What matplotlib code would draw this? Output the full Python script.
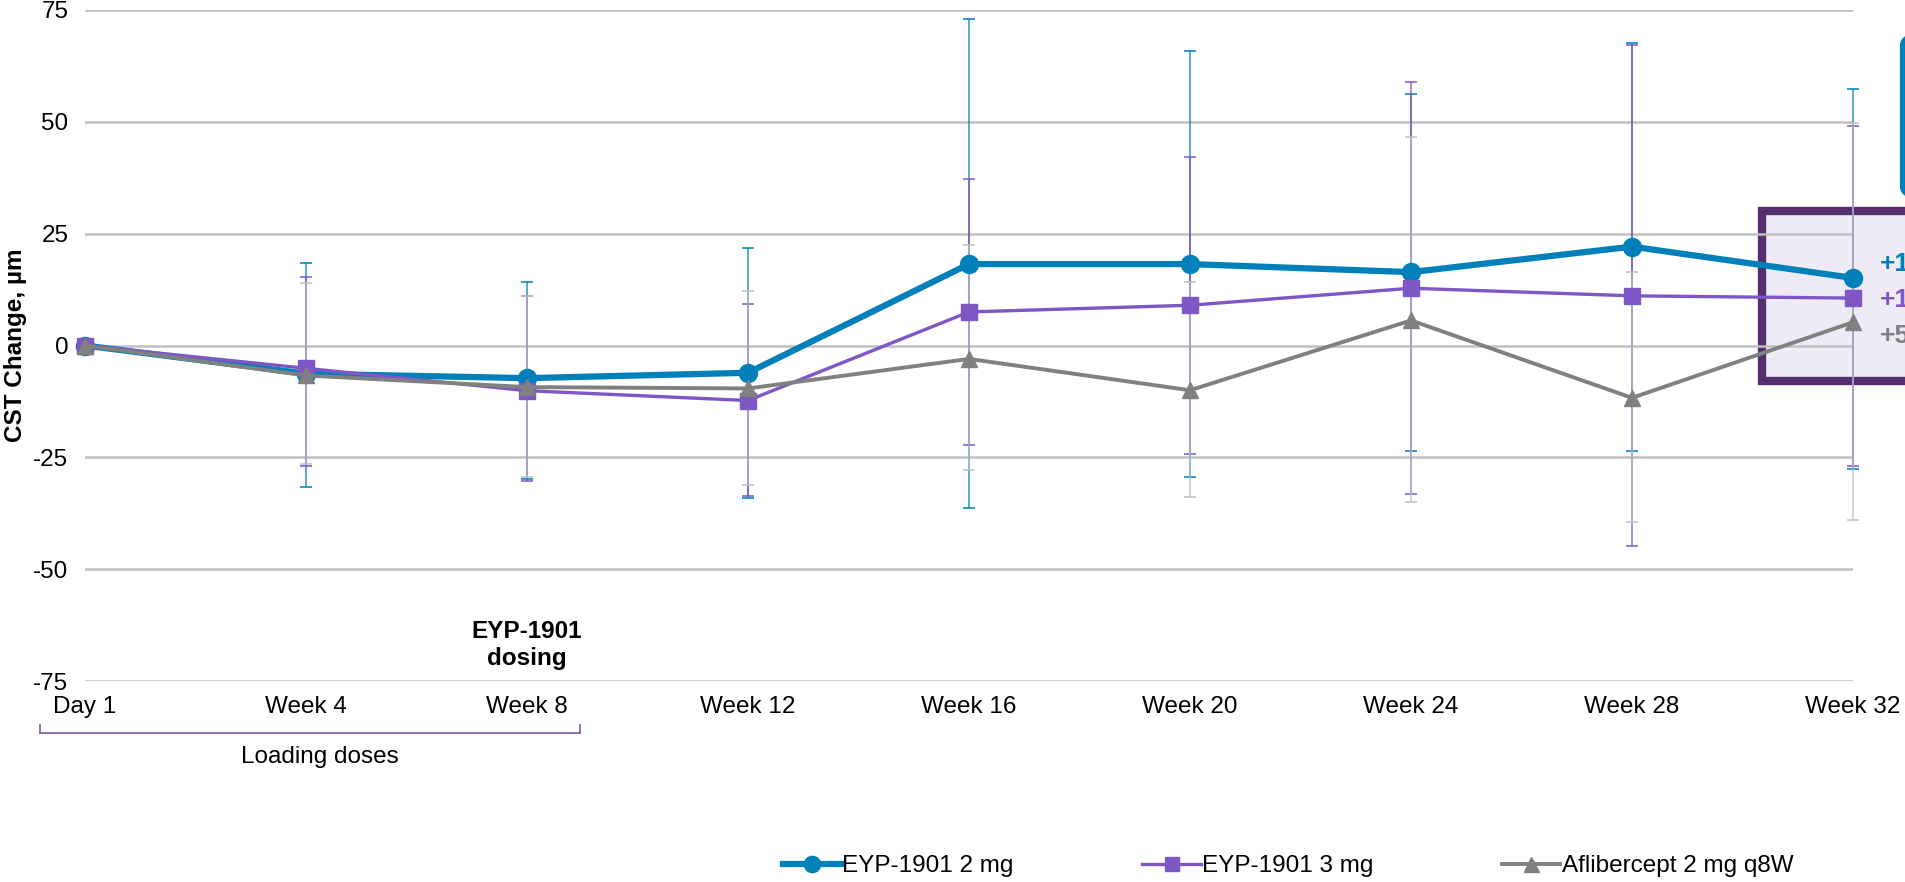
import matplotlib.pyplot as plt
from matplotlib.patches import Rectangle, FancyBboxPatch

plt.rcParams['font.family'] = ['Liberation Sans', 'DejaVu Sans']
plt.rcParams['axes.unicode_minus'] = False

# Visit labels and mean CST change (um)
visits = ['Day 1', 'Week 4', 'Week 8', 'Week 12', 'Week 16', 'Week 20', 'Week 24', 'Week 28', 'Week 32']
eyp2 = [0, -6.3, -7.3, -6.1, 18.2, 18.2, 16.4, 22.1, 15.1]
eyp3 = [0, -5.1, -10.1, -12.3, 7.5, 9.0, 12.8, 11.1, 10.6]
afl = [0, -6.7, -9.3, -9.6, -3.0, -10.0, 5.6, -11.7, 5.2]

# error bar ends (absolute values), no bar at Day 1
eyp2_hi = [18.5, 14.3, 21.8, 72.9, 65.8, 56.3, 67.6, 57.3]
eyp2_lo = [-31.7, -29.8, -34.2, -36.4, -29.4, -23.5, -23.5, -27.5]
eyp3_hi = [15.4, 11.0, 9.3, 37.3, 42.1, 58.9, 67.2, 49.0]
eyp3_lo = [-26.9, -30.2, -33.6, -22.3, -24.2, -33.2, -44.9, -27.0]
afl_hi = [14.0, 11.0, 12.1, 22.5, 14.1, 46.5, 16.5, 49.7]
afl_lo = [-26.5, -29.5, -31.2, -27.8, -33.8, -34.9, -39.4, -39.1]

labels = ['EYP-1901 2 mg', 'EYP-1901 3 mg', 'Aflibercept 2 mg q8W']
end_labels = ['+15', '+11', '+5']

blue = '#0080BA'
purple = '#7E57C5'
grey = '#808080'
fs = 17.5

fig = plt.figure(figsize=(19.06, 8.82), dpi=100)
ax = fig.add_axes([85 / 1906, 201 / 882, 1768 / 1906, 671 / 882])
ax.patch.set_alpha(0)

x = list(range(len(visits)))

# error bars first, underneath the lines
series = [(eyp2, eyp2_hi, eyp2_lo, blue), (eyp3, eyp3_hi, eyp3_lo, purple), (afl, afl_hi, afl_lo, '#BFBFBF')]
for vals, hi, lo, c in series:
    v = vals[1:]
    err = [[a - b for a, b in zip(v, lo)], [b - a for a, b in zip(v, hi)]]
    ax.errorbar(x[1:], v, yerr=err, fmt='none', ecolor=c, elinewidth=1.1,
                capsize=4.5, capthick=1.3, alpha=0.85, zorder=2, clip_on=False)

l1, = ax.plot(x, eyp2, color=blue, lw=4.5, marker='o', ms=13, zorder=3, clip_on=False)
l2, = ax.plot(x, eyp3, color=purple, lw=2.4, marker='s', ms=11.5, zorder=4, clip_on=False)
l3, = ax.plot(x, afl, color=grey, lw=2.8, marker='^', ms=12, zorder=5, clip_on=False)

ax.set_xlim(0, 8)
ax.set_ylim(-75, 75)
ax.set_yticks(range(-75, 76, 25))
ax.set_xticks(x)
ax.set_xticklabels(visits)
ax.tick_params(length=0, labelsize=fs)
ax.tick_params(axis='y', pad=12)
ax.tick_params(axis='x', pad=11)
ax.grid(axis='y', color='#C0C0C0', lw=1.8)
ax.set_axisbelow(True)
for s in ax.spines.values():
    s.set_visible(False)
ax.set_ylabel('CST Change, µm', fontsize=fs, fontweight='bold')
ax.yaxis.set_label_coords(-0.033, 0.5)

ax.text(2, -67, 'EYP-1901\ndosing', ha='center', va='center', fontsize=fs,
        fontweight='bold', linespacing=1.2)

# loading doses bracket
brk = dict(color='#7A5AA0', lw=1.2, clip_on=False, transform=fig.transFigure)
y0, y1 = 1 - 733 / 882, 1 - 725 / 882
x0, x1 = 40 / 1906, 580 / 1906
fig.add_artist(plt.Line2D([x0, x1], [y0, y0], **brk))
fig.add_artist(plt.Line2D([x0, x0], [y0, y1], **brk))
fig.add_artist(plt.Line2D([x1, x1], [y0, y1], **brk))
fig.text(320 / 1906, 1 - 757 / 882, 'Loading doses', ha='center', va='center', fontsize=fs)

# highlight box at Week 32 (behind the axes)
fig.add_artist(Rectangle((1762 / 1906, 1 - 381 / 882), 200 / 1906, 170 / 882,
                         transform=fig.transFigure, facecolor='#EEEBF6',
                         edgecolor='#542E6E', lw=6, zorder=-1))
fig.add_artist(FancyBboxPatch((1903 / 1906, 1 - 197 / 882), 200 / 1906, 162 / 882,
                              boxstyle='round,pad=0,rounding_size=0.012',
                              transform=fig.transFigure, facecolor='white',
                              edgecolor=blue, lw=4.5, zorder=-1))
for i, (t, c) in enumerate(zip(end_labels, [blue, purple, grey])):
    fig.text(1880 / 1906, 1 - (264 + 36 * i) / 882, t, color=c, fontsize=19,
             fontweight='bold', va='center', ha='left')

fig.legend([l1, l2, l3], labels, loc='center', bbox_to_anchor=(1288 / 1906, 1 - 866 / 882),
           ncol=3, frameon=False, fontsize=fs, handlelength=2.4, handletextpad=0.05,
           columnspacing=5.3, markerscale=0.9)

fig.savefig('out.png', dpi=100)
